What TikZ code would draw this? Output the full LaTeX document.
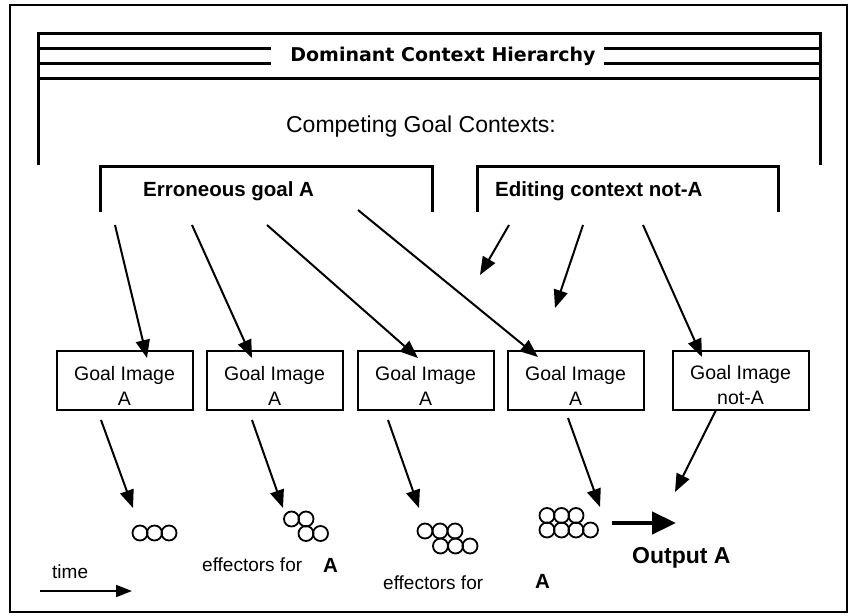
\documentclass[tikz,border=0pt]{standalone}
\usepackage{fontspec}
\setmainfont{Liberation Sans}
\newfontfamily\bannerfont{DejaVu Sans}
\usetikzlibrary{arrows.meta}

\begin{document}
\begin{tikzpicture}[x=1pt,y=-1pt,
  frame/.style={line width=2pt},
  heavy/.style={line width=3pt},
  feed/.style={line width=2pt,-{Triangle[length=18pt,width=14pt]}},
  goalbox/.style={draw,line width=2pt,minimum width=136pt,minimum height=59pt,inner sep=0pt},
  goaltext/.style={align=center,inner sep=0pt,font=\fontsize{19.5}{25}\selectfont},
  plain/.style={font=\fontsize{19}{23}\selectfont,inner sep=0pt},
  strong/.style={font=\bfseries\fontsize{20.5}{24}\selectfont,inner sep=0pt},
  eff/.style={circle,draw,line width=1.8pt,minimum size=15pt,inner sep=0pt}
]
\useasboundingbox (0,0) rectangle (850,615);
\draw[frame] (10,5) rectangle (847,612);

% banner of the dominant context hierarchy
\draw[heavy] (38,165) -- (38,34) -- (820,34) -- (820,165);
\draw[heavy] (38,79) -- (820,79);
\draw[heavy] (38,49) -- (271,49) (38,64) -- (271,64);
\draw[heavy] (604,49) -- (820,49) (604,64) -- (820,64);
\node[font=\bannerfont\bfseries\fontsize{19}{22}\selectfont,inner sep=0pt] (dch) at (443,56.5) {Dominant Context Hierarchy};

\node[font=\fontsize{23}{27}\selectfont,inner sep=0pt] (cgc) at (421,127) {Competing Goal Contexts:};

% the two competing goal contexts
\draw[heavy] (100,212) -- (100,166) -- (432,166) -- (432,212);
\node[strong,anchor=west] (err) at (143,191) {Erroneous goal A};
\draw[heavy] (477,212) -- (477,166) -- (778,166) -- (778,212);
\node[strong,anchor=west] (edit) at (495,191) {Editing context not-A};

% goal images
\foreach \n/\x in {1/124.5,2/274.5,3/425.5,4/575.5,5/740.5}
  \node[goalbox] (g\n) at (\x,380) {};
\node[goaltext] (g1t) at ([yshift=-5.5pt]g1.center) {Goal Image\\A};
\node[goaltext] (g2t) at ([yshift=-5.5pt]g2.center) {Goal Image\\A};
\node[goaltext] (g3t) at ([yshift=-5.5pt]g3.center) {Goal Image\\A};
\node[goaltext] (g4t) at ([yshift=-5.5pt]g4.center) {Goal Image\\A};
\node[goaltext] (g5t) at ([yshift=-5.5pt]g5.center) {Goal Image\\not-A};

% arrows from the contexts down to the goal images
\coordinate (s1) at (115,225);  \coordinate (t1) at (147,358);
\coordinate (s2) at (192,225);  \coordinate (t2) at (252,358);
\coordinate (s3) at (267,225);  \coordinate (t3) at (418,358);
\coordinate (s4) at (358,210);  \coordinate (t4) at (538,357);
\coordinate (s5) at (509,225);  \coordinate (t5) at (480,275);
\coordinate (s6) at (583,225);  \coordinate (t6) at (555,308);
\coordinate (s7) at (643,225);  \coordinate (t7) at (702,357);
\foreach \i in {1,...,7} \draw[feed] (s\i) -- (t\i);

% effector clusters
\foreach \x/\n in {140/a,154.5/b,169/c} \node[eff] (e1\n) at (\x,533) {};
\foreach \x/\y/\n in {291.5/519/a,306/519/b,306/533.5/c,320.5/533.5/d} \node[eff] (e2\n) at (\x,\y) {};
\foreach \x/\y/\n in {425/531/a,440/531/b,455/531/c,440.5/546/d,455.5/546/e,470/546/f} \node[eff] (e3\n) at (\x,\y) {};
\foreach \x/\y/\n in {547/515.5/a,561.5/515.5/b,576/515.5/c,547/530/d,561.5/530/e,576/530/f,590.5/530/g} \node[eff] (e4\n) at (\x,\y) {};

% arrows from the goal images to the effectors
\coordinate (u1) at (101,420);  \coordinate (v1) at (133,508);
\coordinate (u2) at (252,420);  \coordinate (v2) at (283,508);
\coordinate (u3) at (388,420);  \coordinate (v3) at (419,508);
\coordinate (u4) at (568,418);  \coordinate (v4) at (600,507);
\coordinate (u5) at (716,410);  \coordinate (v5) at (675,492);
\foreach \i in {1,...,5} \draw[feed] (u\i) -- (v\i);

% output
\coordinate (o1) at (612,523);
\coordinate (o2) at (676,523);
\draw[line width=4.5pt,-{Triangle[length=24pt,width=22pt]}] (o1) -- (o2);
\node[font=\bfseries\fontsize{23}{27}\selectfont,inner sep=0pt,anchor=west] (out) at (632,558) {Output A};

% labels under the effectors
\node[plain,anchor=west] (lab1) at (202,565) {effectors for};
\node[strong,anchor=west] (labA1) at (323,565) {A};
\node[plain,anchor=west] (lab2) at (383,583) {effectors for};
\node[strong,anchor=west] (labA2) at (535,581) {A};

% time axis
\node[plain,anchor=west] (time) at (52,572) {time};
\coordinate (ta) at (40,591);
\coordinate (tb) at (132,591);
\draw[line width=2pt,-{Triangle[length=16pt,width=12pt]}] (ta) -- (tb);
\end{tikzpicture}
\end{document}
